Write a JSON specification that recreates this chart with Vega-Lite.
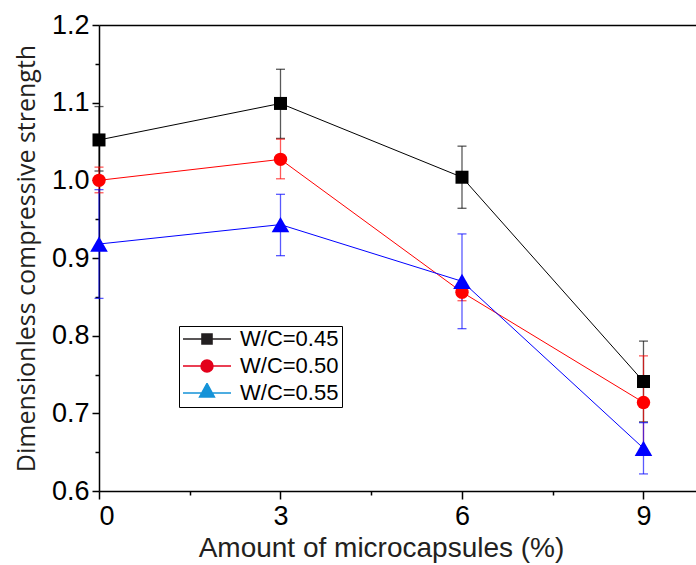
{
  "$schema": "https://vega.github.io/schema/vega-lite/v6.json",
  "width": 597,
  "height": 466,
  "autosize": {"type": "none"},
  "padding": {"left": 99, "top": 25, "right": 0, "bottom": 74},
  "background": "white",
  "config": {
    "view": {"stroke": null},
    "axis": {"domainColor": "#000", "tickColor": "#000", "domainWidth": 1.5, "tickWidth": 1.5, "labelColor": "#000", "grid": false}
  },
  "data": {
    "values": [
      {"series": "W/C=0.45", "x": 0, "y": 1.052, "lo": 1.012, "hi": 1.095},
      {"series": "W/C=0.45", "x": 3, "y": 1.099, "lo": 1.054, "hi": 1.143},
      {"series": "W/C=0.45", "x": 6, "y": 1.004, "lo": 0.964, "hi": 1.044},
      {"series": "W/C=0.45", "x": 9, "y": 0.741, "lo": 0.689, "hi": 0.793},
      {"series": "W/C=0.50", "x": 0, "y": 1.0, "lo": 0.984, "hi": 1.017},
      {"series": "W/C=0.50", "x": 3, "y": 1.027, "lo": 1.002, "hi": 1.053},
      {"series": "W/C=0.50", "x": 6, "y": 0.856, "lo": 0.845, "hi": 0.868},
      {"series": "W/C=0.50", "x": 9, "y": 0.714, "lo": 0.653, "hi": 0.774},
      {"series": "W/C=0.55", "x": 0, "y": 0.918, "lo": 0.848, "hi": 0.988},
      {"series": "W/C=0.55", "x": 3, "y": 0.943, "lo": 0.903, "hi": 0.982},
      {"series": "W/C=0.55", "x": 6, "y": 0.87, "lo": 0.809, "hi": 0.931},
      {"series": "W/C=0.55", "x": 9, "y": 0.655, "lo": 0.622, "hi": 0.688}
    ]
  },
  "resolve": {"axis": {"x": "independent", "y": "independent"}},
  "layer": [
    {
      "transform": [{"filter": "datum.series == 'W/C=0.45'"}],
      "mark": {"type": "errorbar", "ticks": {"size": 9}, "thickness": 1.3, "opacity": 0.65, "color": "#000000"},
      "encoding": {
        "x": {"field": "x", "type": "quantitative", "scale": {"domain": [0, 9.868]},
          "axis": {"orient": "top", "ticks": false, "labels": false, "title": null}},
        "y": {"field": "lo", "type": "quantitative", "scale": {"domain": [0.6, 1.2]}, "axis": null},
        "y2": {"field": "hi"}
      }
    },
    {
      "transform": [{"filter": "datum.series == 'W/C=0.50'"}],
      "mark": {"type": "errorbar", "ticks": {"size": 9}, "thickness": 1.3, "opacity": 0.65, "color": "#ff0000"},
      "encoding": {
        "x": {"field": "x", "type": "quantitative", "scale": {"domain": [0, 9.868]}, "axis": null},
        "y": {"field": "lo", "type": "quantitative", "scale": {"domain": [0.6, 1.2]}, "axis": null},
        "y2": {"field": "hi"}
      }
    },
    {
      "transform": [{"filter": "datum.series == 'W/C=0.55'"}],
      "mark": {"type": "errorbar", "ticks": {"size": 9}, "thickness": 1.3, "opacity": 0.65, "color": "#0000ff"},
      "encoding": {
        "x": {"field": "x", "type": "quantitative", "scale": {"domain": [0, 9.868]}, "axis": null},
        "y": {"field": "lo", "type": "quantitative", "scale": {"domain": [0.6, 1.2]}, "axis": null},
        "y2": {"field": "hi"}
      }
    },
    {
      "transform": [{"filter": "datum.series == 'W/C=0.45'"}],
      "mark": {"type": "line", "strokeWidth": 1, "color": "#000000"},
      "encoding": {
        "x": {"field": "x", "type": "quantitative", "scale": {"domain": [0, 9.868]},
          "axis": {"orient": "bottom", "values": [0, 3, 6, 9], "tickSize": 8, "labelPadding": 4, "labelFont": "Liberation Sans", "labelFontSize": 27,
            "title": "Amount of microcapsules (%)", "titleFont": "Liberation Sans", "titleFontSize": 28, "titleFontWeight": "normal", "titleColor": "#231f20", "titlePadding": 5, "titleX": 282, "titleAnchor": "middle"}},
        "y": {"field": "y", "type": "quantitative", "scale": {"domain": [0.6, 1.2]},
          "axis": {"orient": "left", "values": [0.6, 0.7, 0.8, 0.9, 1.0, 1.1, 1.2], "format": ".1f", "tickSize": 7, "labelPadding": 3, "labelFont": "Liberation Sans", "labelFontSize": 27,
            "title": "Dimensionless compressive strength", "titleFont": "Open Sans", "titleFontSize": 25, "titleFontWeight": "normal", "titleColor": "#231f20", "titlePadding": 12}}
      }
    },
    {
      "transform": [{"filter": "datum.series == 'W/C=0.50'"}],
      "mark": {"type": "line", "strokeWidth": 1, "color": "#ff0000"},
      "encoding": {
        "x": {"field": "x", "type": "quantitative", "scale": {"domain": [0, 9.868]}, "axis": null},
        "y": {"field": "y", "type": "quantitative", "scale": {"domain": [0.6, 1.2]}, "axis": null}
      }
    },
    {
      "transform": [{"filter": "datum.series == 'W/C=0.55'"}],
      "mark": {"type": "line", "strokeWidth": 1, "color": "#0000ff"},
      "encoding": {
        "x": {"field": "x", "type": "quantitative", "scale": {"domain": [0, 9.868]}, "axis": null},
        "y": {"field": "y", "type": "quantitative", "scale": {"domain": [0.6, 1.2]}, "axis": null}
      }
    },
    {
      "transform": [{"filter": "datum.series == 'W/C=0.45'"}],
      "mark": {"type": "point", "filled": true, "opacity": 1, "shape": "square", "size": 169, "color": "#000000"},
      "encoding": {
        "x": {"field": "x", "type": "quantitative", "scale": {"domain": [0, 9.868]},
          "axis": {"orient": "bottom", "values": [1.5, 4.5, 7.5], "tickSize": 4, "labels": false, "domain": false, "title": null}},
        "y": {"field": "y", "type": "quantitative", "scale": {"domain": [0.6, 1.2]},
          "axis": {"orient": "left", "values": [0.65, 0.75, 0.85, 0.95, 1.05, 1.15], "tickSize": 4, "labels": false, "domain": false, "title": null}}
      }
    },
    {
      "transform": [{"filter": "datum.series == 'W/C=0.50'"}],
      "mark": {"type": "point", "filled": true, "opacity": 1, "shape": "circle", "size": 180, "color": "#ff0000"},
      "encoding": {
        "x": {"field": "x", "type": "quantitative", "scale": {"domain": [0, 9.868]}, "axis": null},
        "y": {"field": "y", "type": "quantitative", "scale": {"domain": [0.6, 1.2]}, "axis": null}
      }
    },
    {
      "transform": [{"filter": "datum.series == 'W/C=0.55'"}],
      "mark": {"type": "point", "filled": true, "opacity": 1, "shape": "triangle-up", "size": 310, "color": "#0000ff"},
      "encoding": {
        "x": {"field": "x", "type": "quantitative", "scale": {"domain": [0, 9.868]}, "axis": null},
        "y": {"field": "y", "type": "quantitative", "scale": {"domain": [0.6, 1.2]}, "axis": null}
      }
    },
    {
      "mark": {"type": "point", "filled": true, "opacity": 0},
      "encoding": {
        "x": {"field": "x", "type": "quantitative", "scale": {"domain": [0, 9.868]}, "axis": null},
        "y": {"field": "y", "type": "quantitative", "scale": {"domain": [0.6, 1.2]}, "axis": null},
        "color": {"field": "series", "type": "nominal", "scale": {"domain": ["W/C=0.45", "W/C=0.50", "W/C=0.55"], "range": ["#231f20", "#e3001b", "#1593d8"]},
          "legend": {"orient": "none", "legendX": 80, "legendY": 301, "title": null, "strokeColor": "#000", "padding": 3, "clipHeight": 20, "rowPadding": 5,
            "symbolSize": 2304, "labelFont": "Liberation Sans", "labelFontSize": 22, "labelColor": "#000", "labelOffset": 8,
            "labelExpr": "datum.label + '\u00a0\u00a0'",
            "encode": {"symbols": {"update": {"opacity": {"value": 1}, "fillOpacity": {"value": 1}, "strokeOpacity": {"value": 1}, "stroke": {"scale": "color", "field": "value"}, "strokeWidth": {"value": 1.5}}}}}},
        "shape": {"field": "series", "type": "nominal", "scale": {"domain": ["W/C=0.45", "W/C=0.50", "W/C=0.55"],
          "range": ["M-1,0H1M-0.21,-0.21H0.21V0.21H-0.21Z", "M-1,0H1M0.25,0A0.25,0.25,0,1,1,-0.25,0A0.25,0.25,0,1,1,0.25,0Z", "M-1,0H1M0,-0.4L0.31,0.17H-0.31Z"]},
          "legend": {"orient": "none", "legendX": 80, "legendY": 301, "title": null, "strokeColor": "#000", "padding": 3, "clipHeight": 20, "rowPadding": 5,
            "symbolSize": 2304, "labelFont": "Liberation Sans", "labelFontSize": 22, "labelColor": "#000", "labelOffset": 8,
            "labelExpr": "datum.label + '\u00a0\u00a0'",
            "encode": {"symbols": {"update": {"opacity": {"value": 1}, "fillOpacity": {"value": 1}, "strokeOpacity": {"value": 1}, "stroke": {"scale": "color", "field": "value"}, "strokeWidth": {"value": 1.5}}}}}}
      }
    }
  ]
}
